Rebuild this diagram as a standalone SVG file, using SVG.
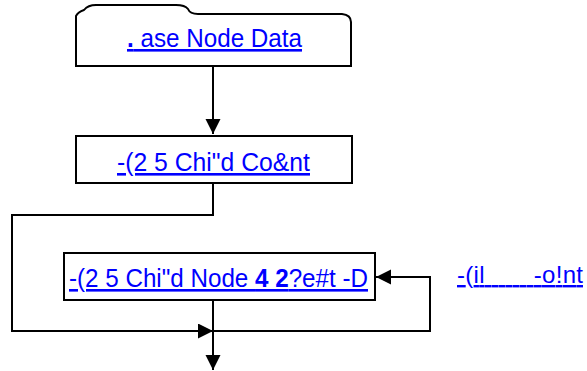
<svg xmlns="http://www.w3.org/2000/svg" width="587" height="371" viewBox="0 0 587 371">
  <style>
    .box { fill: #ffffff; stroke: #000000; stroke-width: 2; }
    .lbl { font-family: "Liberation Sans", Arial, sans-serif; font-size: 26px; fill: #0000ff; text-decoration: underline; }
    .edge { font-size: 24px; }
    .b { font-weight: bold; }
    .wire { fill: none; stroke: #000000; stroke-width: 2; }
  </style>
  <defs>
    <marker id="arrow" markerUnits="userSpaceOnUse" markerWidth="16" markerHeight="16" refX="15" refY="7.5" orient="auto">
      <path d="M0,0 L15,7.5 L0,15 Z" fill="#000000"/>
    </marker>
  </defs>

  <!-- connectors -->
  <g id="connectors">
    <path class="wire" d="M213,66 L213,134" marker-end="url(#arrow)"/>
    <path class="wire" d="M213,183 L213,215 L12,215 L12,331 L213,331" marker-end="url(#arrow)"/>
    <path class="wire" d="M213,300 L213,370" marker-end="url(#arrow)"/>
    <path class="wire" d="M213,331 L430,331 L430,277 L376,277" marker-end="url(#arrow)"/>
  </g>

  <!-- base data node (tabbed folder shape) -->
  <g id="node-base-data">
    <path class="box" d="M76,66 L76,16 Q78,12 84,10 Q88,5 96,5 L176,5 Q185,5 188,9 Q190,14 198,14 L342,14 Q351,15 351,22 L351,66 Z"/>
    <text class="lbl" x="127" y="47" textLength="175" lengthAdjust="spacingAndGlyphs"><tspan class="b">.</tspan> ase Node Data</text>
  </g>

  <!-- child count node -->
  <g id="node-child-count">
    <rect class="box" x="76" y="136" width="276" height="47"/>
    <text class="lbl" x="117" y="171" textLength="193" lengthAdjust="spacingAndGlyphs">-(2 5 Chi"d Co&amp;nt</text>
  </g>

  <!-- child node loop body -->
  <g id="node-child-loop">
    <rect class="box" x="64" y="253" width="311" height="47"/>
    <text class="lbl" x="69" y="287" textLength="299" lengthAdjust="spacingAndGlyphs">-(2 5 Chi"d Node <tspan class="b">4 2</tspan>?e#t -D</text>
  </g>

  <!-- loop edge label -->
  <g id="label-loop">
    <text class="lbl edge" x="457" y="283" xml:space="preserve" textLength="126" lengthAdjust="spacing">-(il       -o!nt</text>
  </g>
</svg>
